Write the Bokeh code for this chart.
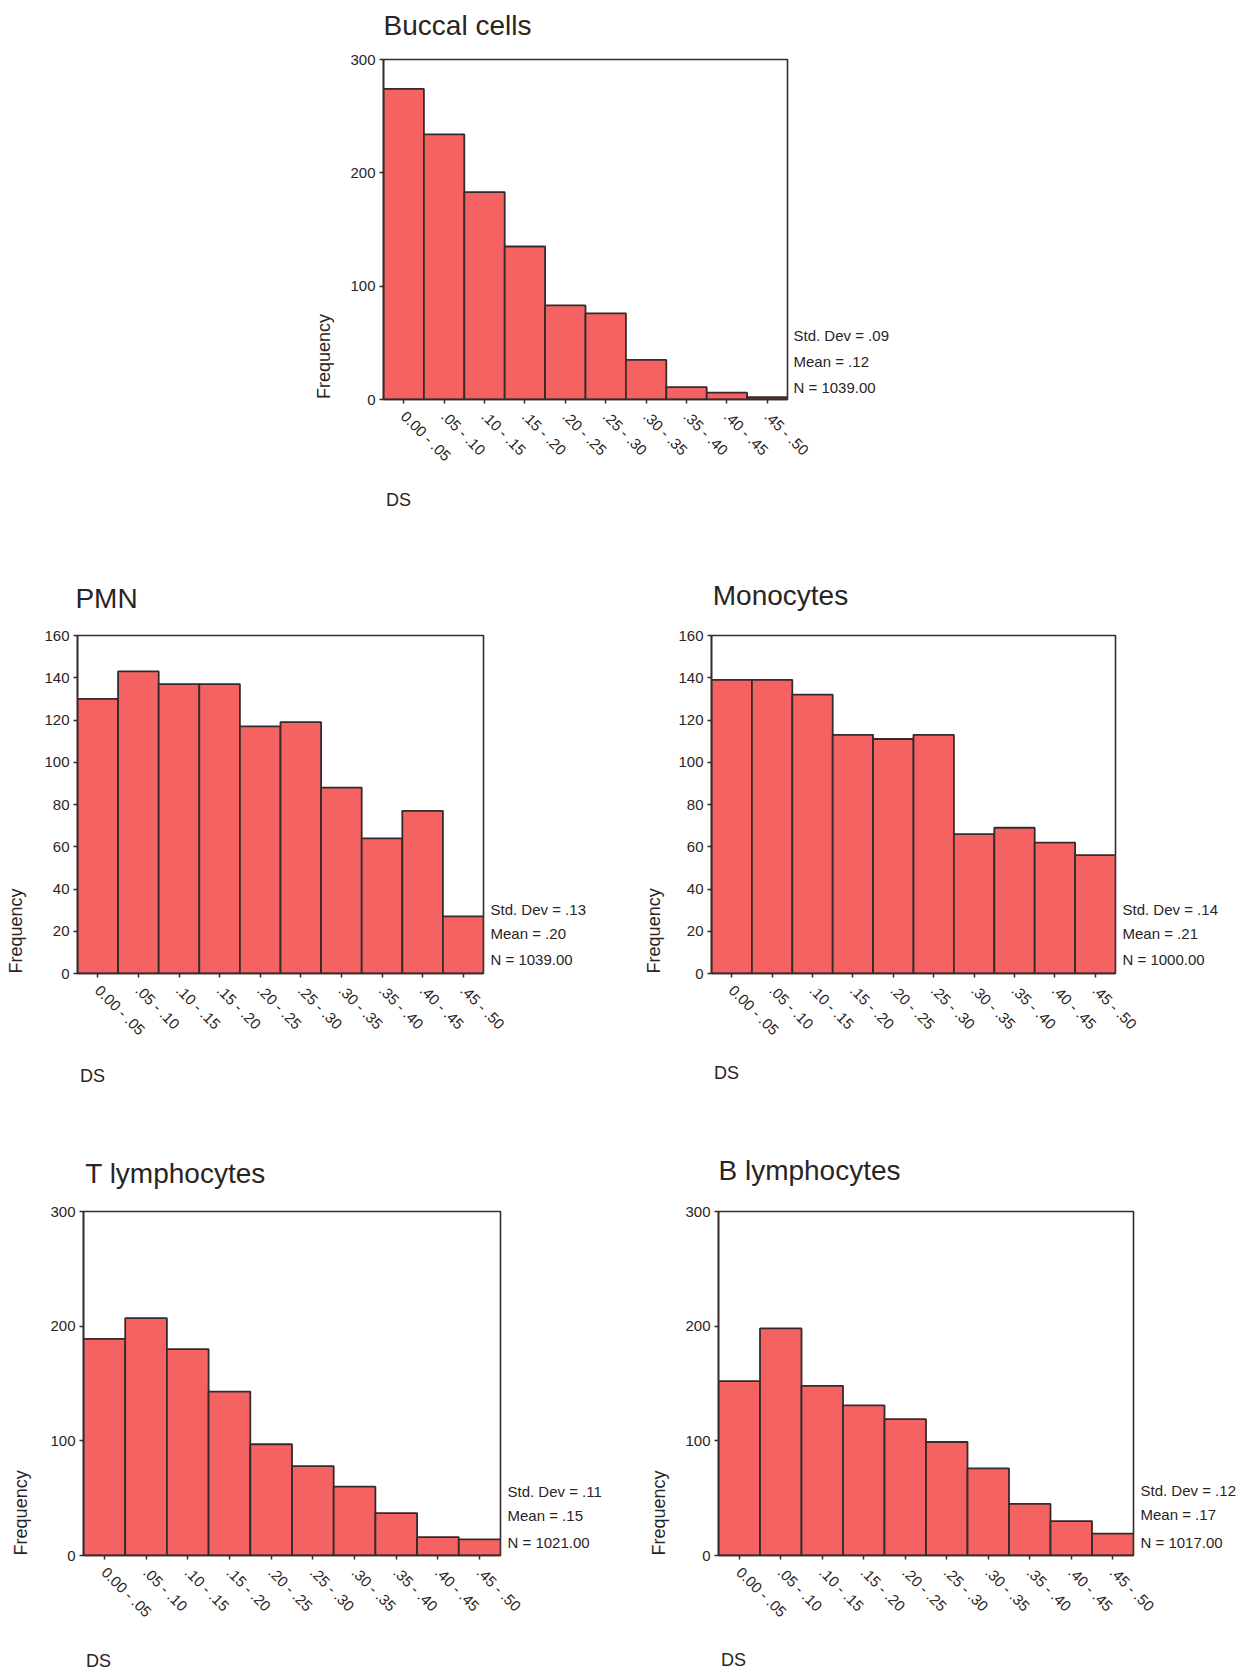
import math
from bokeh.plotting import figure
from bokeh.models import Range1d, FixedTicker, LinearAxis
from bokeh.layouts import row, column
from bokeh.embed import file_html
from bokeh.resources import INLINE

# ---------------- data ----------------
bins = ["0.00 - .05", ".05 - .10", ".10 - .15", ".15 - .20", ".20 - .25",
        ".25 - .30", ".30 - .35", ".35 - .40", ".40 - .45", ".45 - .50"]

buccal_counts = [274, 234, 183, 135, 83, 76, 35, 11, 6, 2]
pmn_counts = [130, 143, 137, 137, 117, 119, 88, 64, 77, 27]
mono_counts = [139, 139, 132, 113, 111, 113, 66, 69, 62, 56]
tlym_counts = [189, 207, 180, 143, 97, 78, 60, 37, 16, 14]
blym_counts = [152, 198, 148, 131, 119, 99, 76, 45, 30, 19]

titles = ["Buccal cells", "PMN", "Monocytes", "T lymphocytes", "B lymphocytes"]
stats = [
    ["Std. Dev = .09", "Mean = .12", "N = 1039.00"],
    ["Std. Dev = .13", "Mean = .20", "N = 1039.00"],
    ["Std. Dev = .14", "Mean = .21", "N = 1000.00"],
    ["Std. Dev = .11", "Mean = .15", "N = 1021.00"],
    ["Std. Dev = .12", "Mean = .17", "N = 1017.00"],
]
y_max = [300, 160, 160, 300, 300]
y_ticks = [[0, 100, 200, 300], list(range(0, 161, 20)), list(range(0, 161, 20)),
           [0, 100, 200, 300], [0, 100, 200, 300]]

FONT = "Liberation Sans"
TXT = "#2a2424"
FILL = "#F46262"
EDGE = "#362a2a"

# bin index -> centre position on a 0..10 axis (one unit per bin)
centers = [i + 0.5 for i in range(len(bins))]


def text_axis(text, pos, standoff, size, orient="horizontal", **rng):
    """An axis without line/ticks that carries one text label (layout helper)."""
    return LinearAxis(ticker=FixedTicker(ticks=[pos]),
                      major_label_overrides={pos: text},
                      major_label_orientation=orient,
                      axis_line_color=None, major_tick_line_color=None,
                      major_tick_out=0, major_tick_in=0,
                      minor_tick_line_color=None,
                      major_label_standoff=standoff,
                      major_label_text_font=FONT, major_label_text_color=TXT,
                      major_label_text_font_size=size, **rng)


def panel(title, counts, st, ymax, ticks, w, h, bl, br, bt, bb,
          title_pos, title_sd, ds_sd, freq_sd, stat_sd, stat_y):
    fh = h - bt - bb
    fw = w - bl - br
    p = figure(x_range=Range1d(0, len(bins)), y_range=Range1d(0, ymax),
               width=w, height=h, output_backend="svg", toolbar_location=None,
               min_border_left=bl, min_border_right=br, min_border_top=bt,
               min_border_bottom=bb, background_fill_color="white",
               border_fill_color="white")
    p.extra_y_ranges = {"py": Range1d(0, fh)}
    p.extra_x_ranges = {"px": Range1d(0, fw)}
    p.vbar(x=centers, top=counts, width=1, fill_color=FILL, line_color=EDGE,
           line_width=1.8)
    p.xgrid.visible = False
    p.ygrid.visible = False
    p.outline_line_color = EDGE
    p.outline_line_width = 1.6
    p.outline_line_alpha = 1

    for ax in (p.xaxis[0], p.yaxis[0]):
        ax.axis_line_color = EDGE
        ax.axis_line_width = 1.6
        ax.major_tick_line_color = EDGE
        ax.major_tick_line_width = 1.5
        ax.major_tick_out = 4
        ax.major_tick_in = 0
        ax.minor_tick_line_color = None
        ax.major_label_text_font = FONT
        ax.major_label_text_color = TXT
        ax.major_label_text_font_size = "15px"
    p.yaxis.ticker = FixedTicker(ticks=ticks)
    p.yaxis.major_label_standoff = 4
    p.xaxis.ticker = FixedTicker(ticks=centers)
    p.xaxis.major_label_overrides = {c: b for c, b in zip(centers, bins)}
    p.xaxis.major_label_orientation = -math.pi / 4
    p.xaxis.major_label_standoff = 10

    # stats block to the right of the frame
    sa = LinearAxis(y_range_name="py", ticker=FixedTicker(ticks=stat_y),
                    major_label_overrides={v: t for v, t in zip(stat_y, st)},
                    axis_line_color=None, major_tick_line_color=None,
                    major_tick_out=0, major_tick_in=0,
                    minor_tick_line_color=None, major_label_standoff=stat_sd,
                    major_label_text_font=FONT, major_label_text_color=TXT,
                    major_label_text_font_size="15px")
    p.add_layout(sa, "right")

    # panel title (left-aligned above the frame)
    p.add_layout(text_axis(title, title_pos, title_sd, "28px",
                           x_range_name="px"), "above")
    # "DS" under the tick labels, left-aligned
    p.add_layout(text_axis("DS", 15, ds_sd, "18px", x_range_name="px"), "below")
    # "Frequency" rotated, starting at the bottom of the frame
    p.add_layout(text_axis("Frequency", 43, freq_sd, "18px", orient="vertical",
                           y_range_name="py"), "left")
    return p


p_buc = panel(titles[0], buccal_counts, stats[0], y_max[0], y_ticks[0],
              1246, 540, 383, 459, 59, 141, 74, 19, 16, 14, 6, [64, 38, 12])
p_pmn = panel(titles[1], pmn_counts, stats[1], y_max[1], y_ticks[1],
              623, 570, 77, 140, 95, 133, 29, 22, 18, 15, 7, [65, 40, 14])
p_mono = panel(titles[2], mono_counts, stats[2], y_max[2], y_ticks[2],
               623, 570, 88, 131, 92, 137, 69, 25, 15, 11, 7, [65, 40, 14])
p_t = panel(titles[3], tlym_counts, stats[3], y_max[3], y_ticks[3],
            623, 564, 83, 123, 101, 116, 92, 23, 21, 16, 7, [65, 40, 13])
p_b = panel(titles[4], blym_counts, stats[4], y_max[4], y_ticks[4],
            623, 564, 95, 113, 97, 119, 91, 26, 20, 13, 7, [66, 41, 13])

layout = column(row(p_buc, spacing=0), row(p_pmn, p_mono, spacing=0),
                row(p_t, p_b, spacing=0), spacing=0)

open("out.html", "w").write(file_html(layout, INLINE))
